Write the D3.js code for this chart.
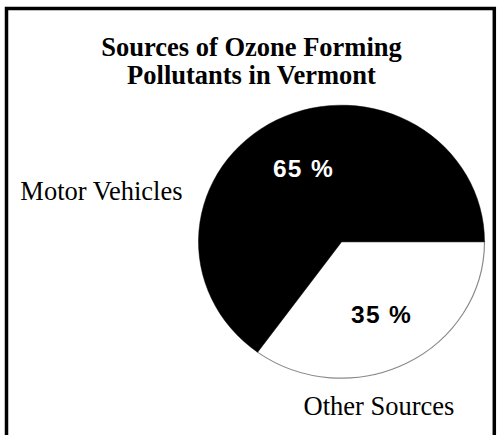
<!DOCTYPE html>
<html>
<head>
<meta charset="utf-8">
<script src="https://cdn.jsdelivr.net/npm/d3@7"></script>
<style>
  html, body { margin: 0; padding: 0; background: #fff; }
  svg { display: block; }
</style>
</head>
<body>
<svg id="chart" width="497" height="435"></svg>
<script>
// data
const titleLines = ['Sources of Ozone Forming', 'Pollutants in Vermont'];
const categories = ['Other Sources', 'Motor Vehicles'];
const values = [35, 65];
const fills = ['#ffffff', '#000000'];
const valueLabelColors = ['#000000', '#ffffff'];

const W = 497, H = 435;
const cx = 341.5, cy = 241.7;
const rx = 143, ry = 136.5;

const svg = d3.select('#chart');

// frame (open at the bottom, cut by the picture edge)
svg.append('rect')
  .attr('x', 6.5).attr('y', 8.5)
  .attr('width', 487.8).attr('height', 460)
  .attr('fill', 'none').attr('stroke', '#000').attr('stroke-width', 3.5);

// title
svg.append('g').selectAll('text').data(titleLines).enter().append('text')
  .attr('x', 251.5)
  .attr('y', (d, i) => 56 + i * 27.5)
  .attr('text-anchor', 'middle')
  .attr('font-family', '"Liberation Serif", "Times New Roman", serif')
  .attr('font-weight', 'bold')
  .attr('font-size', '26.5px')
  .attr('fill', '#000')
  .text(d => d);

// pie, slightly squashed vertically like the original
const slices = categories.map((c, i) => ({ name: c, value: values[i], fill: fills[i], labelColor: valueLabelColors[i] }));
const pie = d3.pie().sort(null).value(d => d.value)
  .startAngle(Math.PI / 2).endAngle(Math.PI / 2 + 2 * Math.PI);
const arcs = pie(slices);
const arc = d3.arc().innerRadius(0).outerRadius(rx);
const labelArc = d3.arc().innerRadius(86).outerRadius(86);

const pieG = svg.append('g')
  .attr('transform', `translate(${cx},${cy}) scale(1,${ry / rx})`);

pieG.selectAll('path').data(arcs).enter().append('path')
  .attr('d', arc)
  .attr('fill', d => d.data.fill)
  .attr('stroke', d => d.data.fill === '#ffffff' ? '#8a8a8a' : '#000')
  .attr('stroke-width', d => d.data.fill === '#ffffff' ? 1.2 : 0.5)
  .attr('vector-effect', 'non-scaling-stroke');

// percentage labels
svg.append('g').selectAll('text').data(arcs).enter().append('text')
  .attr('x', d => cx + labelArc.centroid(d)[0] + 1)
  .attr('y', d => cy + labelArc.centroid(d)[1] * ry / rx)
  .attr('dy', '0.35em')
  .attr('text-anchor', 'middle')
  .attr('font-family', '"Liberation Sans", Arial, sans-serif')
  .attr('font-weight', 'bold')
  .attr('font-size', '24.5px')
  .attr('letter-spacing', '1.3px')
  .attr('fill', d => d.data.labelColor)
  .text(d => d.data.value + ' %');

// category labels
const serif = '"Liberation Serif", "Times New Roman", serif';
svg.append('text')
  .attr('x', cx - rx - 16).attr('y', cy - 42)
  .attr('text-anchor', 'end')
  .attr('font-family', serif).attr('font-size', '26.5px').attr('fill', '#000')
  .text(categories[1]);

svg.append('text')
  .attr('x', cx + 37.5).attr('y', cy + ry + 37)
  .attr('text-anchor', 'middle')
  .attr('font-family', serif).attr('font-size', '26.5px').attr('fill', '#000')
  .text(categories[0]);
</script>
</body>
</html>
